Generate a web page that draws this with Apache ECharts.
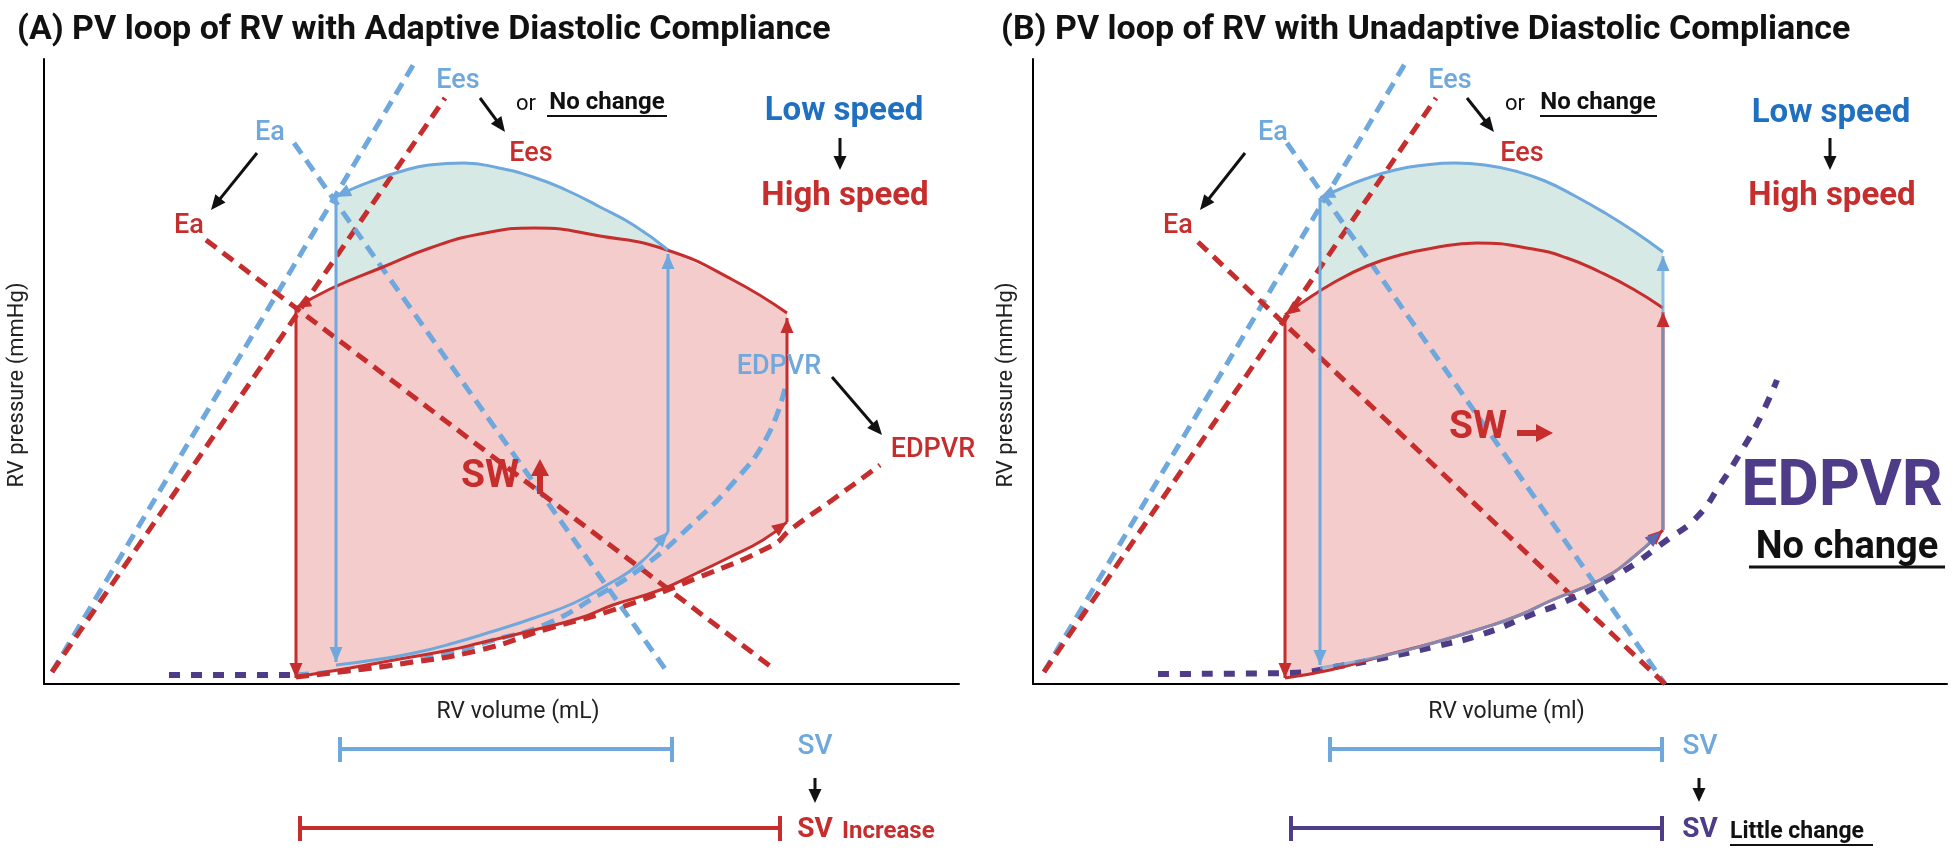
<!DOCTYPE html>
<html><head><meta charset="utf-8">
<script src="https://cdn.jsdelivr.net/npm/echarts@6/dist/echarts.min.js"></script>
<style>html,body{margin:0;padding:0;background:#fff}#c{width:1953px;height:850px}</style>
</head><body><div id="c"></div>
<script>
// ---------- schematic values (volume, pressure in arbitrary units from the axes origin) ----------
// Panel A: adaptive diastolic compliance
const eesBlueA = [[8,12],[371,622]];
const eesRedA  = [[8,12],[401,586]];
const eaBlueA  = [[250,541],[624,11]];
const eaRedA   = [[162,444],[726,18]];
const blueTopA    = [[624,434],[591,458],[556,477],[522,494],[489,507],[455,516],[420,521],[385,519],[355,512],[328,503],[308,495],[292,487]];
const blueLeftA   = [[292,487],[292,22]];
const blueBottomA = [[292,19],[330,24],[370,31],[410,41],[450,53],[490,66],[530,81],[563,99],[595,120],[624,152]];
const blueRightA  = [[624,152],[624,430]];
const redTopA     = [[743,371],[689,404],[623,434],[556,448],[491,456],[436,450],[386,436],[339,417],[286,395],[252,376]];
const redLeftA    = [[252,376],[252,6]];
const redBottomA  = [[252,7],[306,16],[356,25],[406,34],[436,41],[486,53],[536,66],[569,79],[616,94],[653,111],[686,127],[719,144],[743,162]];
const redRightA   = [[743,162],[743,366]];
const edpvrBlueA  = [[252,9],[300,13],[350,19],[400,30],[450,44],[500,59],[553,88],[600,118],[643,155],[689,201],[723,247],[741,296]];
const edpvrRedA   = [[252,7],[356,20],[436,34],[503,55],[569,74],[653,106],[729,139],[746,154],[791,186],[836,219]];
const edpvrFlatA  = [[125,9],[252,9]];
const svBlueA = [296,628];
const svRedA  = [256,736];

// Panel B: unadaptive diastolic compliance
const eesBlueB = [[11,12],[373,622]];
const eesRedB  = [[11,12],[403,586]];
const eaBlueB  = [[254,541],[632,0]];
const eaRedB   = [[165,442],[632,0]];
const blueTopB    = [[630,432],[602,452],[572,471],[542,488],[512,503],[482,513],[452,519],[422,521],[392,519],[362,514],[332,505],[307,495],[287,486]];
const blueLeftB   = [[287,486],[287,19]];
const blueBottomB = [[287,16],[350,28],[400,41],[450,56],[487,69],[517,83],[567,104],[597,124],[627,152]];
const blueRightB  = [[630,154],[630,428]];
const redTopB     = [[630,376],[600,395],[567,412],[534,426],[500,435],[444,441],[400,436],[367,429],[334,418],[300,401],[267,380],[252,369]];
const redLeftB    = [[252,369],[252,6]];
const redBottomB  = [[252,6],[297,14],[350,28],[400,41],[450,56],[487,69],[517,83],[567,104],[597,124],[630,154]];
const redRightB   = [[630,154],[630,372]];
const edpvrB      = [[125,10],[257,11],[307,18],[350,26],[400,37],[450,50],[500,70],[527,80],[584,109],[634,144],[664,167],[687,199],[709,234],[727,266],[744,304]];
const svBlueB   = [297,629];
const svPurpleB = [258,629];

// ---------- styles ----------
const BLUE = '#6fa8dc', RED = '#c62d2d', PURPLE = '#4f3c88', TEAL = '#d6e9e4', PINK = '#f5cccc';
const DARKBLUE = '#1f70c1', INK = '#111';
const FONT = 'Roboto';

const chart = echarts.init(document.getElementById('c'));

function lineS(data, ax, color, width, dashed, z, opacity) {
  return {type:'line', xAxisIndex:ax, yAxisIndex:ax, data, symbol:'none', showSymbol:false,
    smooth: data.length > 2 ? 0.5 : false, silent:true, animation:false, z: z,
    lineStyle:{color, width, type: dashed ? dashed : 'solid', cap:'butt', opacity: opacity == null ? 1 : opacity}};
}
function fillS(poly, ax, color, z) {
  return {type:'custom', xAxisIndex:ax, yAxisIndex:ax, data:[[0,0]], silent:true, animation:false, z:z,
    renderItem:(p, api) => ({type:'polygon', shape:{points: poly.map(pt => api.coord(pt))}, style:{fill:color}})};
}
function arrowS(list, ax, z) {
  return {type:'custom', xAxisIndex:ax, yAxisIndex:ax, data: list.map((a,i)=>[i,0]), silent:true, animation:false, z:z,
    renderItem:(p, api) => {
      const a = list[p.dataIndex], pts = a.path;
      const tip = api.coord(pts[pts.length-1]), prev = api.coord(pts[pts.length-2]);
      const ang = Math.atan2(tip[1]-prev[1], tip[0]-prev[0]), c = Math.cos(ang), s = Math.sin(ang);
      const L = 15, W = 6.5, bx = tip[0]-L*c, by = tip[1]-L*s;
      return {type:'polygon', shape:{points:[tip,[bx-W*s,by+W*c],[bx+W*s,by-W*c]]}, style:{fill:a.color, opacity:a.opacity||1}};
    }};
}
function svS(bars, ax) {
  return {type:'custom', xAxisIndex:ax, yAxisIndex:ax, data: bars.map((b,i)=>[i,0]), silent:true, animation:false, z:5, clip:false,
    renderItem:(p, api) => {
      const b = bars[p.dataIndex];
      const p1 = api.coord([b.range[0],0]), p2 = api.coord([b.range[1],0]);
      const y = p1[1] + b.drop, st = {stroke:b.color, lineWidth:4};
      return {type:'group', children:[
        {type:'line', shape:{x1:p1[0],y1:y,x2:p2[0],y2:y}, style:st},
        {type:'line', shape:{x1:p1[0],y1:y-12,x2:p1[0],y2:y+13}, style:st},
        {type:'line', shape:{x1:p2[0],y1:y-12,x2:p2[0],y2:y+13}, style:st}]};
    }};
}

const DASH = [13,8], PDASH = [11,11];
const series = [
  // panel A
  fillS(blueBottomA.concat(blueTopA), 0, TEAL, 1),
  fillS(redBottomA.concat(redTopA), 0, PINK, 1),
  lineS(eesBlueA, 0, BLUE, 5, DASH, 3), lineS(eesRedA, 0, RED, 5, DASH, 3),
  lineS(eaBlueA, 0, BLUE, 5, DASH, 3), lineS(eaRedA, 0, RED, 5, DASH, 3),
  lineS(edpvrBlueA, 0, BLUE, 5, DASH, 3), lineS(edpvrRedA, 0, RED, 5, DASH, 3),
  lineS(edpvrFlatA, 0, PURPLE, 6, PDASH, 3),
  lineS(redTopA, 0, RED, 3, null, 4), lineS(redLeftA, 0, RED, 3, null, 4),
  lineS(redBottomA, 0, RED, 3, null, 4), lineS(redRightA, 0, RED, 3, null, 4),
  lineS(blueTopA, 0, BLUE, 3, null, 4), lineS(blueLeftA, 0, BLUE, 3, null, 4),
  lineS(blueBottomA, 0, BLUE, 3, null, 4), lineS(blueRightA, 0, BLUE, 3, null, 4),
  arrowS([{path:redTopA,color:RED},{path:redLeftA,color:RED},{path:redBottomA,color:RED},{path:redRightA,color:RED},
          {path:blueTopA,color:BLUE},{path:blueLeftA,color:BLUE},{path:blueBottomA,color:BLUE},{path:blueRightA,color:BLUE}], 0, 5),
  svS([{range:svBlueA,color:BLUE,drop:65},{range:svRedA,color:RED,drop:144}], 0),
  // panel B
  fillS(blueBottomB.concat(blueTopB), 1, TEAL, 1),
  fillS(redBottomB.concat(redTopB), 1, PINK, 1),
  lineS(eesBlueB, 1, BLUE, 5, DASH, 3), lineS(eesRedB, 1, RED, 5, DASH, 3),
  lineS(eaBlueB, 1, BLUE, 5, DASH, 3), lineS(eaRedB, 1, RED, 5, DASH, 3),
  lineS(edpvrB, 1, PURPLE, 6, PDASH, 3),
  lineS(redTopB, 1, RED, 3, null, 4), lineS(redLeftB, 1, RED, 3, null, 4),
  lineS(redBottomB, 1, RED, 3, null, 4), lineS(redRightB, 1, RED, 3, null, 4),
  lineS(blueTopB, 1, BLUE, 3, null, 4), lineS(blueLeftB, 1, BLUE, 3, null, 4),
  lineS(blueBottomB, 1, BLUE, 3, null, 4, 0.75), lineS(blueRightB, 1, BLUE, 3, null, 4, 0.75),
  arrowS([{path:redTopB,color:RED},{path:redLeftB,color:RED},{path:redBottomB,color:RED},{path:redRightB,color:RED},
          {path:blueTopB,color:BLUE},{path:blueLeftB,color:BLUE},{path:blueBottomB,color:'#5b66b0'},{path:blueRightB,color:BLUE}], 1, 5),
  svS([{range:svBlueB,color:BLUE,drop:65},{range:svPurpleB,color:PURPLE,drop:144}], 1)
];

// ---------- annotation graphics ----------
function T(x, y, text, color, size, weight, align) {
  return {type:'text', x, y, silent:true, z:100,
    style:{text, fill:color, fontSize:size, fontWeight:weight, fontFamily:FONT, align:align||'center', verticalAlign:'middle'}};
}
function U(x1, x2, y, color, w) {
  return {type:'line', silent:true, z:100, shape:{x1, y1:y, x2, y2:y}, style:{stroke:color||INK, lineWidth:w||2}};
}
function AR(x1, y1, x2, y2, color, w, hl, hw) {
  const a = Math.atan2(y2-y1, x2-x1), c = Math.cos(a), s = Math.sin(a);
  const bx = x2-hl*c, by = y2-hl*s;
  return [
    {type:'line', silent:true, z:100, shape:{x1, y1, x2:bx+c, y2:by+s}, style:{stroke:color, lineWidth:w}},
    {type:'polygon', silent:true, z:100, shape:{points:[[x2,y2],[bx-hw*s,by+hw*c],[bx+hw*s,by-hw*c]]}, style:{fill:color}}
  ];
}
const LW = 500;
const graphic = [].concat(
  // panel A
  T(458,81,'Ees',BLUE,27,LW), T(531,154,'Ees',RED,27,LW),
  T(270,133,'Ea',BLUE,27,LW), T(189,226,'Ea',RED,27,LW),
  T(526,104,'or',INK,22,'normal'), T(607,103,'No change',INK,24,'bold'), U(547,667,116),
  T(844,112,'Low speed',DARKBLUE,33,'bold'), T(845,197,'High speed',RED,33,'bold'),
  T(779,367,'EDPVR',BLUE,27,LW), T(933,450,'EDPVR',RED,27,LW),
  T(490,477,'SW',RED,39,'bold'),
  T(815,747,'SV',BLUE,28,LW), T(815,830,'SV',RED,28,'bold'), T(842,832,'Increase',RED,24,'bold','left'),
  AR(480,98,505,132,INK,3,15,6.5), AR(257,153,211,210,INK,3,15,6.5), AR(832,377,882,435,INK,3,15,6.5),
  AR(840,138,840,170,INK,3,14,6.5), AR(815,778,815,803,INK,3,14,6.5),
  AR(540,494,540,459,RED,6,17,9),
  // panel B
  T(1450,81,'Ees',BLUE,27,LW), T(1522,154,'Ees',RED,27,LW),
  T(1273,133,'Ea',BLUE,27,LW), T(1178,226,'Ea',RED,27,LW),
  T(1515,104,'or',INK,22,'normal'), T(1598,103,'No change',INK,24,'bold'), U(1540,1657,116),
  T(1831,114,'Low speed',DARKBLUE,33,'bold'), T(1832,197,'High speed',RED,33,'bold'),
  T(1478,428,'SW',RED,39,'bold'),
  T(1842,489,'EDPVR',PURPLE,64,'bold'), T(1847,548,'No change',INK,38,'bold'), U(1749,1945,567,INK,3),
  T(1700,747,'SV',BLUE,28,LW), T(1700,830,'SV',PURPLE,28,'bold'), T(1730,832,'Little change',INK,23,'bold','left'), U(1730,1873,845),
  AR(1467,98,1494,132,INK,3,15,6.5), AR(1245,153,1200,210,INK,3,15,6.5),
  AR(1830,138,1830,170,INK,3,14,6.5), AR(1699,778,1699,802,INK,3,14,6.5),
  AR(1517,433,1553,433,RED,6,17,9)
);

function axX(idx, name, max) {
  return {type:'value', gridIndex:idx, min:0, max, name, nameLocation:'middle', nameGap:17,
    nameTextStyle:{fontSize:23, color:'#222', fontFamily:FONT, padding:[0,0,0,33]},
    axisLine:{show:true, onZero:false, lineStyle:{color:'#000', width:2}}, axisTick:{show:false}, axisLabel:{show:false}, splitLine:{show:false}};
}
function axY(idx, name) {
  return {type:'value', gridIndex:idx, min:0, max:625, name, nameLocation:'middle', nameRotate:90, nameGap:16,
    nameTextStyle:{fontSize:22, color:'#222', fontFamily:FONT, padding:[0,27,0,0]},
    axisLine:{show:true, onZero:false, lineStyle:{color:'#000', width:2}}, axisTick:{show:false}, axisLabel:{show:false}, splitLine:{show:false}};
}

chart.setOption({
  animation:false,
  backgroundColor:'#fff',
  title:[
    {text:'(A) PV loop of RV with Adaptive Diastolic Compliance', left:12, top:8, textStyle:{fontSize:34, fontWeight:'bold', color:INK, fontFamily:FONT}},
    {text:'(B) PV loop of RV with Unadaptive Diastolic Compliance', left:996, top:8, textStyle:{fontSize:34, fontWeight:'bold', color:INK, fontFamily:FONT}}
  ],
  grid:[{left:44, top:59, width:915, height:625}, {left:1033, top:59, width:914, height:625}],
  xAxis:[axX(0,'RV volume (mL)',915), axX(1,'RV volume (ml)',914)],
  yAxis:[axY(0,'RV pressure (mmHg)'), axY(1,'RV pressure (mmHg)')],
  series,
  graphic
});
</script></body></html>
